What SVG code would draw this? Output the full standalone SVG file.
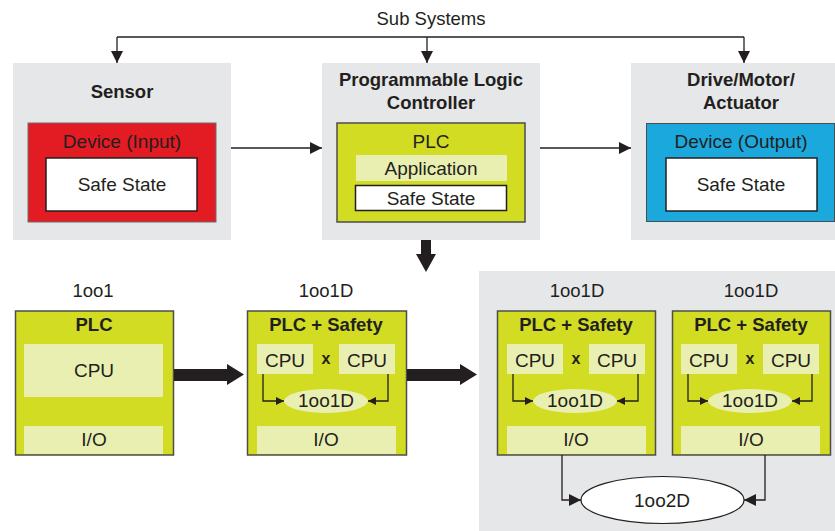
<svg xmlns="http://www.w3.org/2000/svg" width="835" height="531" viewBox="0 0 835 531">
<defs>
<style>
text{font-family:"Liberation Sans",Arial,sans-serif;fill:#231f20;text-anchor:middle}
.t17{font-size:19px}
.t16{font-size:18.5px}
.b{font-weight:bold;font-size:18.5px}
.x{font-weight:bold;font-size:16px}
.gray{fill:#e6e7e8}
.green{fill:#d2dc22;stroke:#4d4d4d;stroke-width:1.5}
.lite{fill:#e9efb0}
.white{fill:#fff;stroke:#231f20;stroke-width:1.5}
.ln{fill:none;stroke:#231f20;stroke-width:1.3}
</style>
<marker id="ah" viewBox="0 0 10 10" refX="10" refY="5" markerWidth="8" markerHeight="8" markerUnits="userSpaceOnUse" orient="auto">
<path d="M0,0 L10,5 L0,10 z" fill="#231f20"/>
</marker>
<marker id="ah2" viewBox="0 0 10 10" refX="10" refY="5" markerWidth="12" markerHeight="12" markerUnits="userSpaceOnUse" orient="auto">
<path d="M0,0 L10,5 L0,10 z" fill="#231f20"/>
</marker>
</defs>
<rect width="835" height="531" fill="#fff"/>
<text x="431" y="25" class="t16">Sub Systems</text>

<rect class="gray" x="479" y="271" width="356" height="260"/>

<g id="sensor">
<rect class="gray" x="13" y="63" width="218" height="177"/>
<text x="122" y="98" class="b">Sensor</text>
<rect x="28" y="123" width="188" height="99" fill="#e31b23" stroke="#6d6e71" stroke-width="1"/>
<text x="122" y="148" class="t17">Device (Input)</text>
<rect class="white" x="46" y="158" width="151" height="53"/>
<text x="122" y="191" class="t17">Safe State</text>
</g>

<g id="plc">
<rect class="gray" x="322" y="63" width="218" height="177"/>
<text x="431" y="86" class="b">Programmable Logic</text>
<text x="431" y="109" class="b">Controller</text>
<rect class="green" x="337" y="123" width="188" height="99"/>
<text x="431" y="148" class="t17">PLC</text>
<rect class="lite" x="356" y="155" width="151" height="26"/>
<text x="431" y="175" class="t17">Application</text>
<rect class="white" x="355.5" y="185.5" width="151" height="25"/>
<text x="431" y="205" class="t17">Safe State</text>
</g>

<g id="drive">
<rect class="gray" x="631" y="63" width="204" height="177"/>
<text x="741" y="86" class="b">Drive/Motor/</text>
<text x="741" y="109" class="b">Actuator</text>
<rect x="646.5" y="123.5" width="188" height="98" fill="#1ba8dc" stroke="#4d4d4d" stroke-width="1"/>
<text x="741" y="148" class="t17">Device (Output)</text>
<rect class="white" x="666" y="158" width="151" height="53"/>
<text x="741" y="191" class="t17">Safe State</text>
</g>

<g id="b1">
<text x="93" y="297" class="t16">1oo1</text>
<rect class="green" x="15.5" y="311" width="158" height="144"/>
<text x="94" y="331" class="b">PLC</text>
<rect class="lite" x="24" y="344" width="139" height="53"/>
<text x="94" y="377" class="t17">CPU</text>
<rect class="lite" x="24" y="426" width="139" height="28"/>
<text x="94" y="446" class="t17">I/O</text>
</g>

<g id="b2">
<text x="326" y="297" class="t16">1oo1D</text>
<rect class="green" x="247.5" y="311" width="159" height="144"/>
<text x="326" y="331" class="b">PLC + Safety</text>
<rect class="lite" x="257" y="344" width="56" height="30"/>
<text x="285" y="367" class="t17">CPU</text>
<text x="326" y="364" class="x">x</text>
<rect class="lite" x="339" y="344" width="56" height="30"/>
<text x="367" y="367" class="t17">CPU</text>
<ellipse class="lite" cx="326" cy="401" rx="42" ry="12"/>
<text x="326" y="407" class="t17">1oo1D</text>
<rect class="lite" x="257" y="426" width="139" height="28"/>
<text x="326" y="446" class="t17">I/O</text>
</g>

<g id="b3">
<text x="577" y="297" class="t16">1oo1D</text>
<rect class="green" x="497.5" y="311" width="158" height="144"/>
<text x="576" y="331" class="b">PLC + Safety</text>
<rect class="lite" x="507" y="344" width="56" height="30"/>
<text x="535" y="367" class="t17">CPU</text>
<text x="576" y="364" class="x">x</text>
<rect class="lite" x="589" y="344" width="56" height="30"/>
<text x="617" y="367" class="t17">CPU</text>
<ellipse class="lite" cx="575" cy="401" rx="42" ry="12"/>
<text x="575" y="407" class="t17">1oo1D</text>
<rect class="lite" x="507" y="426" width="139" height="28"/>
<text x="576" y="446" class="t17">I/O</text>
</g>

<g id="b4">
<text x="751" y="297" class="t16">1oo1D</text>
<rect class="green" x="672.5" y="311" width="158" height="144"/>
<text x="751" y="331" class="b">PLC + Safety</text>
<rect class="lite" x="681" y="344" width="56" height="30"/>
<text x="709" y="367" class="t17">CPU</text>
<text x="750" y="364" class="x">x</text>
<rect class="lite" x="763" y="344" width="56" height="30"/>
<text x="791" y="367" class="t17">CPU</text>
<ellipse class="lite" cx="750" cy="401" rx="42" ry="12"/>
<text x="750" y="407" class="t17">1oo1D</text>
<rect class="lite" x="681" y="426" width="139" height="28"/>
<text x="751" y="446" class="t17">I/O</text>
</g>

<g id="oo2d">
<ellipse cx="662.5" cy="500" rx="81.5" ry="23.5" fill="#fff" stroke="#231f20" stroke-width="1.2"/>
<text x="662" y="507" class="t17">1oo2D</text>
</g>

<g id="connectors">
<path class="ln" d="M117,37 H744"/>
<path class="ln" d="M117,37 V63" marker-end="url(#ah2)"/>
<path class="ln" d="M427,37 V63" marker-end="url(#ah2)"/>
<path class="ln" d="M744,37 V63" marker-end="url(#ah2)"/>
<path class="ln" d="M231,148 H322" marker-end="url(#ah2)"/>
<path class="ln" d="M540,148 H631" marker-end="url(#ah2)"/>
<path d="M421,240 H431 V254 H436 L426,272 L416,254 H421 Z" fill="#231f20"/>
<path d="M174,369 H227 V364 L244,374.5 L227,385 V381 H174 Z" fill="#231f20"/>
<path d="M407,369 H460 V364 L477,374.5 L460,385 V381 H407 Z" fill="#231f20"/>
<path class="ln" d="M263,374 V401 H284" marker-end="url(#ah)"/>
<path class="ln" d="M388,374 V401 H368" marker-end="url(#ah)"/>
<path class="ln" d="M513,374 V401 H533" marker-end="url(#ah)"/>
<path class="ln" d="M638,374 V401 H617" marker-end="url(#ah)"/>
<path class="ln" d="M688,374 V401 H708" marker-end="url(#ah)"/>
<path class="ln" d="M812,374 V401 H792" marker-end="url(#ah)"/>
<path class="ln" d="M562,455 V500 H581" marker-end="url(#ah2)"/>
<path class="ln" d="M765,455 V500 H744" marker-end="url(#ah2)"/>
</g>
</svg>
